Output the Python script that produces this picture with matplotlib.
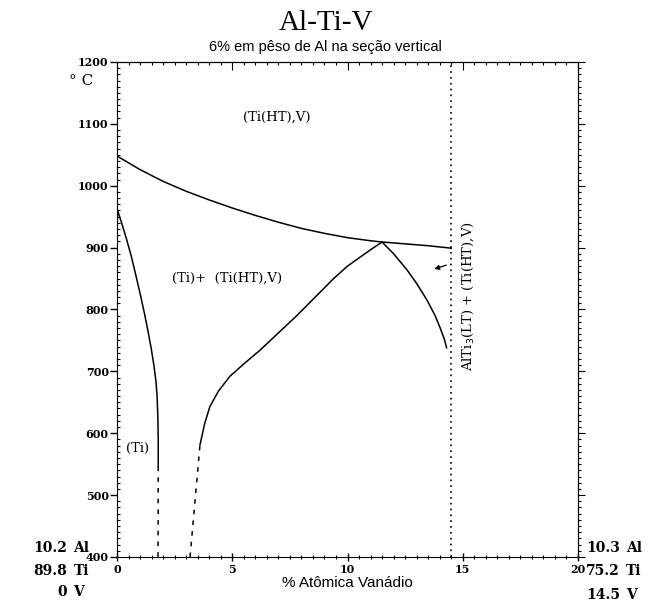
import numpy as np
import matplotlib
matplotlib.use("Agg")
import matplotlib.pyplot as plt
from matplotlib.ticker import MultipleLocator

# upper boundary (Ti(HT),V) / two-phase field
top_x = [0.0, 1.0, 2.0, 3.0, 4.0, 5.0, 6.0, 7.0, 8.0, 9.0, 10.0, 11.0, 11.5,
         12.5, 13.5, 14.5]
top_t = [1048, 1026, 1007, 991, 977, 964, 952, 941, 931, 923, 916, 911, 909,
         906, 903, 899]

# (Ti) solvus, solid part then dashed extension
ti_x = [0.0, 0.2, 0.42, 0.62, 0.82, 1.02, 1.2, 1.34, 1.48, 1.6, 1.69, 1.74,
        1.77, 1.79, 1.79]
ti_t = [963, 940, 913, 886, 855, 823, 792, 766, 738, 710, 684, 660, 630,
        590, 546]
ti_dash_x = [1.79, 1.78]
ti_dash_t = [546, 400]

# (Ti(HT),V) lower boundary, dashed bottom then solid to peak
mid_dash_x = [3.17, 3.6]
mid_dash_t = [400, 581]
mid_x = [3.6, 3.8, 4.03, 4.4, 4.9, 5.5, 6.2, 7.0, 7.8, 8.6, 9.4, 10.0, 10.6,
         11.1, 11.5]
mid_t = [581, 615, 643, 668, 692, 712, 734, 762, 790, 820, 850, 870, 886,
         899, 909]

# boundary from peak down towards AlTi3
right_x = [11.5, 12.0, 12.58, 13.0, 13.45, 13.8, 14.0, 14.2, 14.3]
right_t = [909, 890, 864, 842, 815, 790, 772, 752, 738]

SECTION_X = 14.5

fig = plt.figure(figsize=(6.51, 6.02), dpi=100)
ax = fig.add_axes([0.1797, 0.0748, 0.7082, 0.8223])

lw = 1.1
ax.plot(top_x, top_t, color="black", lw=lw)
ax.plot(ti_x, ti_t, color="black", lw=lw)
ax.plot(ti_dash_x, ti_dash_t, color="black", lw=lw, ls=(0, (3, 4)))
ax.plot(mid_dash_x, mid_dash_t, color="black", lw=lw, ls=(0, (3, 4)))
ax.plot(mid_x, mid_t, color="black", lw=lw)
ax.plot(right_x, right_t, color="black", lw=lw)
ax.axvline(SECTION_X, color="black", lw=1.2, ls=(0, (1, 2.5)))

ax.annotate("", xy=(13.65, 864), xytext=(14.4, 873),
            arrowprops=dict(arrowstyle="-|>", color="black", lw=0.9,
                            mutation_scale=7))

ax.set_xlim(0, 20)
ax.set_ylim(400, 1200)

serif = "DejaVu Serif"
ax.xaxis.set_major_locator(MultipleLocator(5))
ax.xaxis.set_minor_locator(MultipleLocator(0.5))
ax.yaxis.set_major_locator(MultipleLocator(100))
ax.yaxis.set_minor_locator(MultipleLocator(10))
ax.tick_params(axis="y", which="major", direction="out", length=5, width=1,
               labelsize=8, pad=1)
ax.tick_params(axis="y", which="minor", direction="in", length=2.5, width=0.8)
ax.tick_params(axis="x", which="major", direction="inout", length=6, width=1,
               labelsize=8, pad=2)
ax.tick_params(axis="x", which="minor", direction="inout", length=3, width=0.8)
for lab in ax.get_xticklabels() + ax.get_yticklabels():
    lab.set_fontfamily(serif)
    lab.set_fontweight("bold")

sec_y = ax.secondary_yaxis("right")
sec_y.yaxis.set_major_locator(MultipleLocator(100))
sec_y.yaxis.set_minor_locator(MultipleLocator(10))
sec_y.tick_params(which="major", direction="out", length=5, labelright=False)
sec_y.tick_params(which="minor", direction="out", length=2.5, width=0.8)
sec_x = ax.secondary_xaxis("top")
sec_x.xaxis.set_major_locator(MultipleLocator(5))
sec_x.xaxis.set_minor_locator(MultipleLocator(0.5))
sec_x.tick_params(which="major", direction="in", length=6, labeltop=False)
sec_x.tick_params(which="minor", direction="in", length=2.5, width=0.8)

ax.set_xlabel("% Atômica Vanádio", family="Liberation Sans", fontsize=11,
              labelpad=1)

# phase field labels
lbl = dict(family=serif, fontsize=9.5, ha="center", va="center")
ax.text(6.94, 1111, "(Ti(HT),V)", **lbl)
ax.text(4.77, 851, "(Ti)+  (Ti(HT),V)", **lbl)
ax.text(0.91, 576, "(Ti)", **lbl)
ax.text(15.25, 822, "AlTi$_3$(LT) + (Ti(HT),V)", family=serif, fontsize=9.5,
        rotation=90, ha="center", va="center")

# titles
fig.text(0.5, 0.962, "Al-Ti-V", family="Liberation Serif", fontsize=21,
         ha="center", va="center")
fig.text(0.5, 0.922, "6% em pêso de Al na seção vertical",
         family="Liberation Sans", fontsize=10.5, ha="center", va="center")
fig.text(0.125, 0.865, "° C", family=serif, fontsize=11, ha="center", va="center")

# composition labels at the ends of the section
comp = dict(family=serif, fontsize=10, fontweight="bold", va="center")
left_num = ["10.2", "89.8", "0"]
right_num = ["10.3", "75.2", "14.5"]
elems = ["Al", "Ti", "V"]
rows_y = [0.089, 0.051, 0.016]
for num, el, yy in zip(left_num, elems, rows_y):
    fig.text(0.103, yy, num, ha="right", **comp)
    fig.text(0.113, yy, el, ha="left", **comp)
for num, el, yy in zip(right_num, elems, rows_y):
    fig.text(0.952, yy - (0.004 if el == "V" else 0), num, ha="right", **comp)
    fig.text(0.962, yy - (0.004 if el == "V" else 0), el, ha="left", **comp)

fig.savefig("out.png", dpi=100, facecolor="white")
